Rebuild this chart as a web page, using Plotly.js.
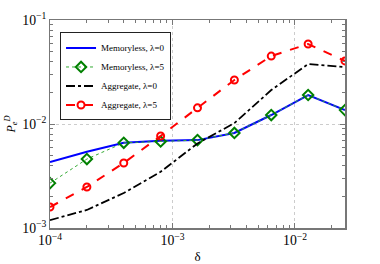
<!DOCTYPE html>
<html><head><meta charset="utf-8">
<script src="https://cdn.plot.ly/plotly-3.0.1.min.js"></script>
<style>html,body{margin:0;padding:0;background:#fff}#plot{width:380px;height:264px}</style>
</head><body><div id="plot"></div>
<script>
const delta = [1e-4, 2e-4, 4e-4, 8e-4, 1.6e-3, 3.2e-3, 6.4e-3, 1.28e-2, 2.56e-2];
const memNoLam = [0.0043, 0.0054, 0.0066, 0.0069, 0.0070, 0.0082, 0.0122, 0.0190, 0.0136];
const memLam5 = [0.0027, 0.0046, 0.0066, 0.0068, 0.0070, 0.0082, 0.0122, 0.0190, 0.0136];
const aggNoLam = [0.00119, 0.00149, 0.00217, 0.00347, 0.0065, 0.0102, 0.0212, 0.0377, 0.0353];
const aggLam5 = [0.00159, 0.00248, 0.00422, 0.00767, 0.0143, 0.0265, 0.045, 0.0588, 0.0404];
const names = ["Memoryless, λ=0", "Memoryless, λ=5", "Aggregate, λ=0", "Aggregate, λ=5"];

const traces = [
  {x: delta, y: memNoLam, name: names[0], mode: 'lines', line: {color: '#0000ff', width: 2}},
  {x: delta, y: memLam5, name: names[1], mode: 'lines+markers', line: {color: '#33aa33', width: 1, dash: 'dot'},
   marker: {symbol: 'diamond-open', size: 8, color: '#008000', line: {width: 2, color: '#008000'}}},
  {x: delta, y: aggNoLam, name: names[2], mode: 'lines', line: {color: '#000000', width: 1.8, dash: 'dashdot'}},
  {x: delta, y: aggLam5, name: names[3], mode: 'lines+markers', line: {color: '#ff0000', width: 2, dash: 'dash'},
   marker: {symbol: 'circle-open', size: 7, color: '#ff0000', line: {width: 2, color: '#ff0000'}}}
];

const fam = "'Liberation Serif', 'Times New Roman', serif";
const layout = {
  width: 380, height: 264,
  margin: {l: 50, r: 35, t: 20, b: 36},
  paper_bgcolor: '#fff', plot_bgcolor: '#fff',
  font: {family: fam, size: 11, color: '#000'},
  showlegend: true,
  legend: {x: 0.034, y: 0.94, xanchor: 'left', yanchor: 'top', bgcolor: '#fff',
           bordercolor: '#222', borderwidth: 1, font: {family: fam, size: 9},
           tracegroupgap: 0, itemwidth: 30},
  xaxis: {type: 'log', range: [-4, Math.log10(0.0256)], dtick: 1, exponentformat: 'power',
          showline: true, linecolor: '#777', linewidth: 1.5, mirror: 'ticks',
          ticks: 'inside', ticklen: 5, tickcolor: '#777',
          tickfont: {family: fam, size: 11},
          showgrid: true, gridcolor: '#cccccc', griddash: 'dot', gridwidth: 1, zeroline: false,
          minor: {ticks: 'inside', ticklen: 3, tickcolor: '#777', showgrid: false},
          title: {text: 'δ', font: {family: fam, size: 13}, standoff: 6}},
  yaxis: {type: 'log', range: [-3, -1], dtick: 1, exponentformat: 'power',
          showline: true, linecolor: '#777', linewidth: 1.5, mirror: 'ticks',
          ticks: 'inside', ticklen: 5, tickcolor: '#777',
          tickfont: {family: fam, size: 11},
          showgrid: true, gridcolor: '#cccccc', griddash: 'dot', gridwidth: 1, zeroline: false,
          minor: {ticks: 'inside', ticklen: 3, tickcolor: '#777', showgrid: false},
          title: {text: '<i>P</i><sub><i>e</i></sub><sup><i>D</i></sup>', font: {family: fam, size: 12}, standoff: 4}}
};
Plotly.newPlot('plot', traces, layout, {staticPlot: true, displayModeBar: false});
</script></body></html>
